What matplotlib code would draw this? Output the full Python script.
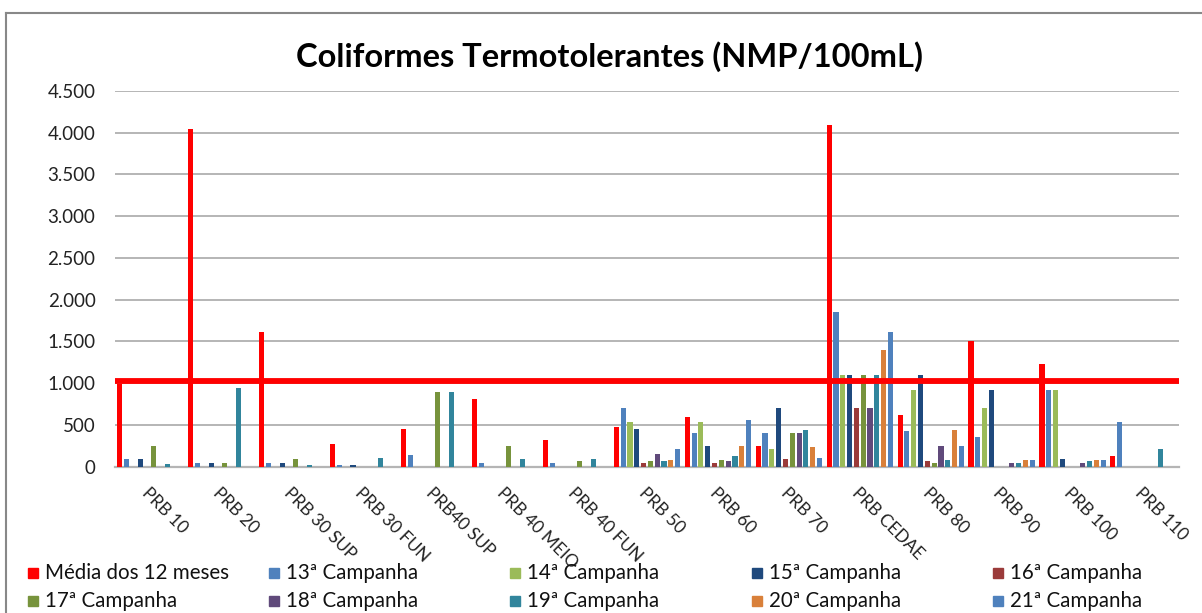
import numpy as np
import matplotlib
matplotlib.use("Agg")
import matplotlib.pyplot as plt
from matplotlib.ticker import FuncFormatter
from matplotlib.lines import Line2D
from matplotlib.patches import Rectangle

plt.rcParams['font.family'] = ['Lato', 'DejaVu Sans']

stations = ['PRB 10', 'PRB 20', 'PRB 30 SUP', 'PRB 30 FUN', 'PRB40 SUP',
            'PRB 40 MEIO', 'PRB 40 FUN', 'PRB 50', 'PRB 60', 'PRB 70',
            'PRB CEDAE', 'PRB 80', 'PRB 90', 'PRB 100', 'PRB 110']

series_names = ['Média dos 12 meses', '13ª Campanha', '14ª Campanha', '15ª Campanha',
                '16ª Campanha', '17ª Campanha', '18ª Campanha', '19ª Campanha',
                '20ª Campanha', '21ª Campanha']

media = [985, 4040, 1615, 270, 455, 815, 320, 480, 590, 245, 4090, 615, 1510, 1235, 125]
camp13 = [90, 40, 40, 15, 140, 40, 45, 705, 400, 400, 1850, 430, 350, 920, 535]
camp14 = [0, 0, 0, 0, 0, 0, 0, 530, 530, 210, 1100, 920, 705, 920, 0]
camp15 = [90, 40, 40, 15, 0, 0, 0, 455, 245, 705, 1100, 1100, 920, 95, 0]
camp16 = [0, 0, 0, 0, 0, 0, 0, 45, 45, 95, 705, 70, 0, 0, 0]
camp17 = [245, 40, 90, 0, 895, 245, 70, 70, 85, 400, 1100, 45, 0, 0, 0]
camp18 = [0, 0, 0, 0, 0, 0, 0, 150, 70, 400, 705, 245, 45, 45, 0]
camp19 = [30, 945, 20, 100, 895, 95, 95, 70, 125, 440, 1100, 85, 45, 70, 215]
camp20 = [0, 0, 0, 0, 0, 0, 0, 80, 245, 230, 1400, 440, 85, 85, 0]
camp21 = [0, 0, 0, 0, 0, 0, 0, 215, 560, 110, 1610, 245, 85, 85, 0]

limite = 1030

series = [media, camp13, camp14, camp15, camp16, camp17, camp18, camp19, camp20, camp21]
colors = ['#FF0000', '#4F81BD', '#9BBB59', '#1F497D', '#9B3B3A',
          '#77933C', '#604A7B', '#31859C', '#D9803A', '#4F81BD']

W, H = 1202, 613
fig = plt.figure(figsize=(W / 100, H / 100), dpi=100)
ax = fig.add_axes([115 / W, 1 - 466.7 / H, (1179 - 115) / W, (466.7 - 91) / H])

x = np.arange(len(stations))
slot = 0.096
for i, (vals, c) in enumerate(zip(series, colors)):
    ax.bar(x + (i - 4.5) * slot, vals, width=0.072, color=c, label=series_names[i], zorder=3)

ax.axhline(limite, color='#FF0000', lw=4.2, zorder=4)

ax.set_xlim(-0.5, len(stations) - 0.5)
ax.set_ylim(0, 4500)
ax.set_yticks(np.arange(0, 4501, 500))
ax.yaxis.set_major_formatter(FuncFormatter(lambda v, p: f'{int(v):,}'.replace(',', '.')))
ax.grid(axis='y', color='#B5B5B5', lw=1.4, zorder=0)
for s in ['top', 'right', 'left']:
    ax.spines[s].set_visible(False)
ax.spines['bottom'].set_color('#B5B5B5')
ax.spines['bottom'].set_linewidth(1.6)
ax.tick_params(axis='y', length=0, pad=14, labelsize=13.5, labelcolor='#222222')
ax.tick_params(axis='x', length=0, pad=13)
ax.set_xticks(x)
ax.set_xticklabels(stations, rotation=-45, ha='left', va='top', rotation_mode='anchor',
                   fontsize=12.5, color='#222222')

fig.text(0.507, 1 - 57 / H, 'Coliformes Termotolerantes (NMP/100mL)', ha='center', va='center',
         fontsize=23.5, fontweight='bold')

# legend laid out like the Excel one: 5 fixed-width columns, filled row by row
col_x = [33, 274, 515, 757, 998]
row_y = [573, 601]
for i, (name, c) in enumerate(zip(series_names, colors)):
    px, py = col_x[i % 5], row_y[i // 5]
    fig.add_artist(Rectangle(((px - 5) / W, 1 - (py + 5) / H), 10 / W, 10 / H,
                             transform=fig.transFigure, color=c))
    fig.text((px + 12) / W, 1 - py / H, name, ha='left', va='center', fontsize=14.8,
             color='#111111')

# chart border
fig.add_artist(Line2D([6 / W, 6 / W], [0, 1 - 13 / H], color='#888888', lw=1.5))
fig.add_artist(Line2D([6 / W, 1], [1 - 13 / H, 1 - 13 / H], color='#888888', lw=1.5))

fig.savefig('out.png', dpi=100)
